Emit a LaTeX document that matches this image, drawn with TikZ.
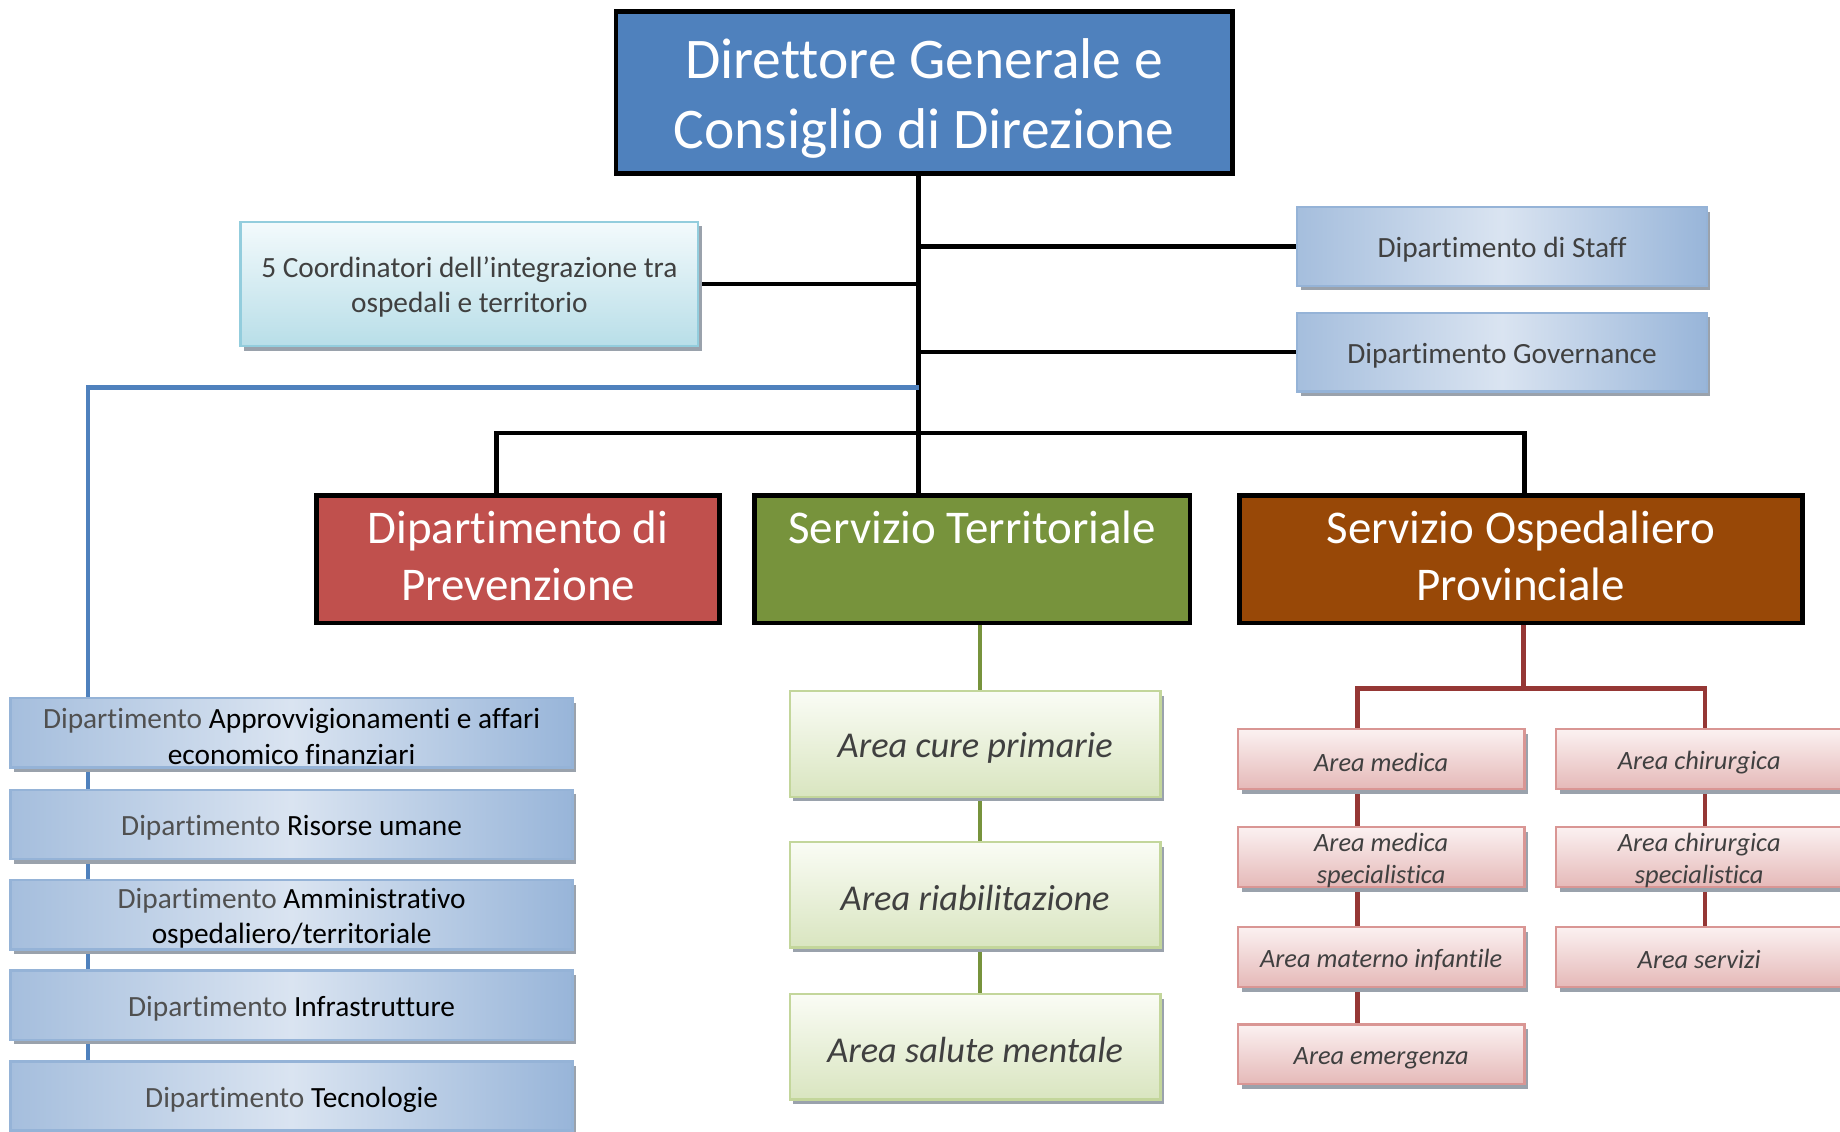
\documentclass[tikz,border=0pt]{standalone}
\usepackage{fontspec}
\setmainfont{Carlito}[Ligatures=NoCommon]
\usetikzlibrary{shadows,backgrounds}
\definecolor{dirblue}{HTML}{4F81BD}
\definecolor{prevred}{HTML}{C0504D}
\definecolor{terrgreen}{HTML}{77933C}
\definecolor{ospbrown}{HTML}{984807}
\definecolor{ospline}{HTML}{953735}
\definecolor{txtgray}{HTML}{404040}
\definecolor{dipgray}{HTML}{505050}
\definecolor{shadowgray}{HTML}{9AA2AC}
\definecolor{bluel}{HTML}{A5BEDD}
\definecolor{bluem}{HTML}{DAE4F1}
\definecolor{bluer}{HTML}{98B5D9}
\definecolor{blueedge}{HTML}{95B3D7}
\definecolor{cyantop}{HTML}{F3FAFC}
\definecolor{cyanbot}{HTML}{B8DEE8}
\definecolor{cyanedge}{HTML}{93CDDD}
\definecolor{greentop}{HTML}{FAFCF5}
\definecolor{greenbot}{HTML}{D9E5C0}
\definecolor{greenedge}{HTML}{C3D69B}
\definecolor{redtop}{HTML}{FBF1F1}
\definecolor{redbot}{HTML}{E5B9B8}
\definecolor{rededge}{HTML}{D99694}
\tikzstyle{main edge} = [draw,line width=4pt,black]
\tikzstyle{support edge} = [draw,line width=4pt,dirblue]
\tikzstyle{terr edge} = [draw,line width=4pt,terrgreen]
\tikzstyle{osp edge} = [draw,line width=4pt,ospline]
% pushes the text of a box down a little
\newcommand{\dropby}[1]{\raisebox{#1}{\vphantom{Dl}}}

\begin{document}
\begin{tikzpicture}
[x=1pt,y=-1pt,
head/.style={draw=black,line width=4pt,fill=#1,text=white,align=center,inner sep=0pt,
  font=\fontsize{40}{49}\selectfont,minimum height=109,
  drop shadow={shadow xshift=2pt,shadow yshift=-2pt,fill=shadowgray,opacity=1}},
lightbox/.style={draw=#1,line width=2pt,align=center,inner sep=0pt,text=txtgray,
  drop shadow={shadow xshift=3pt,shadow yshift=-4pt,fill=shadowgray,opacity=1}},
coordbox/.style={lightbox=cyanedge,top color=cyantop,bottom color=cyanbot,
  font=\fontsize{25}{30}\selectfont},
staffbox/.style={lightbox=blueedge,left color=bluel,right color=bluer,middle color=bluem,
  font=\fontsize{25}{30}\selectfont,minimum width=349,minimum height=67},
deptbox/.style={lightbox=blueedge,left color=bluel,right color=bluer,middle color=bluem,
  text=black,font=\fontsize{25}{30}\selectfont,minimum width=479,minimum height=59},
terrbox/.style={lightbox=greenedge,top color=greentop,bottom color=greenbot,
  font=\fontsize{31}{38}\itshape,minimum width=316,minimum height=90},
ospbox/.style={lightbox=rededge,top color=redtop,bottom color=redbot,
  font=\fontsize{22.5}{27}\itshape,minimum width=244,minimum height=51}]

\useasboundingbox (0,0) rectangle (1568,964);

%% top of the chart
\node (dir) at (787.5,79) [head=dirblue,minimum width=525,minimum height=138,
  font=\fontsize{49}{60}\selectfont] {\dropby{10pt}Direttore Generale e\\Consiglio di Direzione};

\node (coord) at (400,242) [coordbox,minimum width=390,minimum height=106]
  {\dropby{6pt}5 Coordinatori dell’integrazione tra\\ospedali e territorio};

\foreach \nodename/\y/\label in {staff/210/Dipartimento di Staff, gov/300/Dipartimento Governance}
{
\node (\nodename) at (1280,\y) [staffbox] {\dropby{6pt}\label};
}

%% the three services
\foreach \nodename/\x/\w/\col/\label in {
prev/441.5/343/prevred/{Dipartimento di\\Prevenzione},
terr/828.5/371/terrgreen/{Servizio Territoriale\\\mbox{}},
osp/1296/480/ospbrown/{Servizio Ospedaliero\\Provinciale}}
{
\node (\nodename) at (\x,476.5) [head=\col,minimum width=\w] {\label\rule[-6pt]{0pt}{0pt}};
}

%% support departments
\foreach \nodename/\y/\label in {
appr/624.5/{{\color{dipgray}Dipartimento} Approvvigionamenti e affari\\economico finanziari},
ris/702.5/{{\color{dipgray}Dipartimento} Risorse umane},
amm/779.5/{{\color{dipgray}Dipartimento} Amministrativo\\ospedaliero/territoriale},
infr/856.5/{{\color{dipgray}Dipartimento} Infrastrutture},
tec/934/{{\color{dipgray}Dipartimento} Tecnologie}}
{
\node (\nodename) at (248.5,\y) [deptbox] {\dropby{6pt}\label};
}

%% territorial areas
\foreach \nodename/\y/\label in {cure/634/Area cure primarie, riab/762.5/Area riabilitazione, ment/892/Area salute mentale}
{
\node (\nodename) at (831,\y) [terrbox] {\dropby{6pt}\label};
}

%% hospital areas
\foreach \nodename/\x/\y/\label in {
med/1177/647/Area medica, medsp/1177/730.5/{Area medica\\specialistica},
mat/1177/815.5/Area materno infantile, emer/1177/898.5/Area emergenza,
chir/1448/647/Area chirurgica, chirsp/1448/730.5/{Area chirurgica\\specialistica},
serv/1448/815.5/Area servizi}
{
\node (\nodename) at (\x,\y) [ospbox] {\dropby{5pt}\label};
}

%% edges or lines
\begin{scope}[on background layer]
\coordinate (tk) at (783,0);
\coordinate (pv) at (423,369);
\coordinate (ov) at (1299,369);
\coordinate (bl) at (75,330);
\coordinate (gv) at (835,0);
\coordinate (rb) at (1298,587);
\coordinate (rl) at (1157,0);
\coordinate (rr) at (1453,0);

\path[main edge] (dir.south -| tk) -- (terr.north -| tk)
  (coord.east) -- (coord.east -| tk)
  (staff.west) -- (staff.west -| tk)
  (gov.west) -- (gov.west -| tk);
\path[main edge] (prev.north -| pv) -- (pv) -- (ov) -- (osp.north -| ov);
\path[support edge] (bl -| tk) -- (bl) -- (tec.center -| bl);
\path[terr edge] (terr.south -| gv) -- (ment.north -| gv);
\path[osp edge] (osp.south -| rb) -- (rb)
  (emer.north -| rl) -- (rb -| rl) -- (rb -| rr) -- (serv.north -| rr);
\end{scope}

\end{tikzpicture}
\end{document}
